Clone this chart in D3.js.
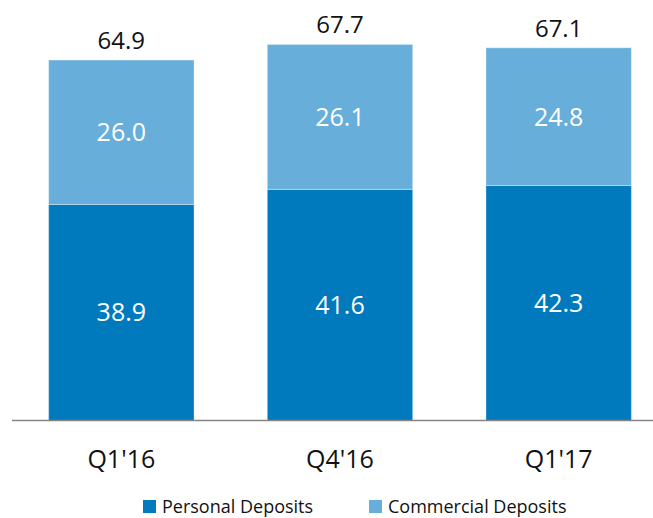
<!DOCTYPE html>
<html>
<head>
<meta charset="utf-8">
<script src="https://cdn.jsdelivr.net/npm/d3@7"></script>
<style>
  body { margin: 0; background: #fff; }
  svg { display: block; font-family: "Open Sans", sans-serif; }
</style>
</head>
<body>
<div id="chart"></div>
<script>
// quarters and deposit balances ($B)
var quarters = ["Q1'16", "Q4'16", "Q1'17"];
var personal = [38.9, 41.6, 42.3];
var commercial = [26.0, 26.1, 24.8];
var totals = [64.9, 67.7, 67.1];
var seriesNames = ["Personal Deposits", "Commercial Deposits"];
var seriesColors = ["#0079bd", "#67afda"];

var width = 653, height = 518;
var baseY = 420.5;

var svg = d3.select("#chart")
    .append("svg")
    .attr("width", width)
    .attr("height", height);

var x = d3.scaleBand()
    .domain(quarters)
    .range([12, 668])
    .paddingInner(0.335)
    .paddingOuter(0.1675);

var y = d3.scaleLinear()
    .domain([0, 75.7])
    .range([baseY, 0]);

var rows = quarters.map(function (q, i) {
    return { quarter: q, personal: personal[i], commercial: commercial[i] };
});

var stack = d3.stack().keys(["personal", "commercial"]);
var layers = stack(rows);

var layer = svg.selectAll("g.layer")
    .data(layers)
    .enter()
    .append("g")
    .attr("class", "layer")
    .attr("fill", function (d, i) { return seriesColors[i]; });

layer.selectAll("rect")
    .data(function (d) { return d; })
    .enter()
    .append("rect")
    .attr("x", function (d) { return x(d.data.quarter); })
    .attr("y", function (d) { return y(d[1]); })
    .attr("width", x.bandwidth())
    .attr("height", function (d) { return y(d[0]) - y(d[1]); })
    .attr("stroke", "rgba(255,255,255,0.35)")
    .attr("stroke-width", 1);

// segment values inside the bars
layer.selectAll("text")
    .data(function (d) { return d; })
    .enter()
    .append("text")
    .attr("x", function (d) { return x(d.data.quarter) + x.bandwidth() / 2; })
    .attr("y", function (d) { return (y(d[0]) + y(d[1])) / 2 + 9; })
    .attr("text-anchor", "middle")
    .attr("font-size", "25px")
    .attr("fill", "#fff")
    .text(function (d) { return (d[1] - d[0]).toFixed(1); });

// totals above bars
svg.selectAll("text.total")
    .data(totals)
    .enter()
    .append("text")
    .attr("class", "total")
    .attr("x", function (d, i) { return x(quarters[i]) + x.bandwidth() / 2; })
    .attr("y", function (d) { return y(d) - 11; })
    .attr("text-anchor", "middle")
    .attr("font-size", "24px")
    .attr("fill", "#111")
    .text(function (d) { return d.toFixed(1); });

// baseline
svg.append("line")
    .attr("x1", 12)
    .attr("x2", width)
    .attr("y1", baseY)
    .attr("y2", baseY)
    .attr("stroke", "#858585")
    .attr("stroke-width", 1.5);

// category labels
svg.selectAll("text.cat")
    .data(quarters)
    .enter()
    .append("text")
    .attr("class", "cat")
    .attr("x", function (d) { return x(d) + x.bandwidth() / 2; })
    .attr("y", 468)
    .attr("text-anchor", "middle")
    .attr("font-size", "25px")
    .attr("fill", "#111")
    .text(function (d) { return d; });

// legend
var legendX = [143, 369];
var legend = svg.selectAll("g.legend")
    .data(seriesNames)
    .enter()
    .append("g")
    .attr("class", "legend")
    .attr("transform", function (d, i) { return "translate(" + legendX[i] + ",500)"; });

legend.append("rect")
    .attr("width", 13)
    .attr("height", 13)
    .attr("fill", function (d, i) { return seriesColors[i]; });

legend.append("text")
    .attr("x", 19)
    .attr("y", 13)
    .attr("font-size", "18px")
    .attr("fill", "#111")
    .text(function (d) { return d; });
</script>
</body>
</html>
